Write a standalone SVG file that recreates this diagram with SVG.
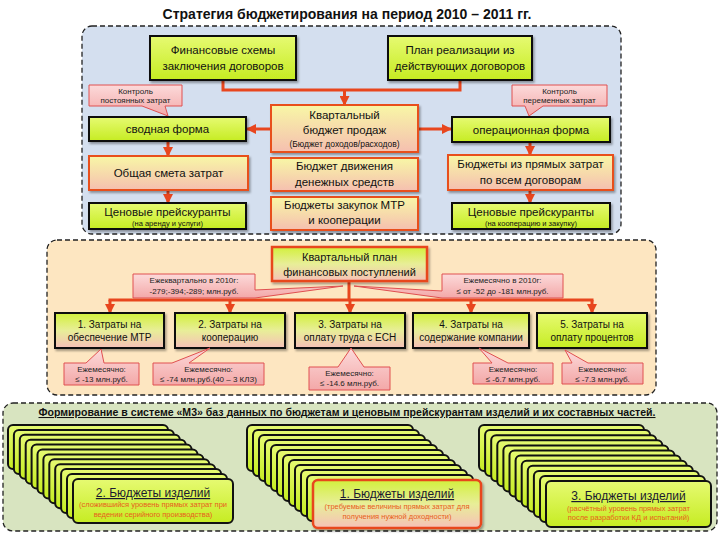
<svg xmlns="http://www.w3.org/2000/svg" width="720" height="540" viewBox="0 0 720 540">
<defs>
<linearGradient id="gGreen" x1="0" y1="0" x2="0" y2="1"><stop offset="0" stop-color="#e6fa72"/><stop offset="1" stop-color="#c6ec22"/></linearGradient>
<linearGradient id="gPeach" x1="0" y1="0" x2="0" y2="1"><stop offset="0" stop-color="#f8f7a6"/><stop offset="1" stop-color="#f5bfb0"/></linearGradient>
<linearGradient id="gMix" x1="0" y1="0" x2="0" y2="1"><stop offset="0" stop-color="#d2f03c"/><stop offset="0.5" stop-color="#e8ee98"/><stop offset="1" stop-color="#f6c0b8"/></linearGradient>
<linearGradient id="gCall" x1="0" y1="0" x2="0" y2="1"><stop offset="0" stop-color="#fcdada"/><stop offset="1" stop-color="#f3a8a8"/></linearGradient>
<filter id="sh" x="-10%" y="-10%" width="130%" height="150%"><feDropShadow dx="1.5" dy="2" stdDeviation="1.2" flood-color="#000" flood-opacity="0.35"/></filter>
<marker id="ah" viewBox="0 0 10 10" refX="9" refY="5" markerWidth="10" markerHeight="10" markerUnits="userSpaceOnUse" orient="auto"><path d="M0,0 L10,5 L0,10 Z" fill="#e8461e"/></marker>
<rect id="cardL" width="160" height="44" rx="5"/>
<rect id="cardM" width="166" height="46" rx="5"/>
<rect id="cardR" width="165" height="46" rx="5"/>
</defs>
<style>
text{font-family:"Liberation Sans",Arial,sans-serif;fill:#111;text-anchor:middle}
.green{fill:url(#gGreen);stroke:#111;stroke-width:2;filter:url(#sh)}
.peach{fill:url(#gPeach);stroke:#e8501e;stroke-width:2;filter:url(#sh)}
.mix{fill:url(#gMix);stroke:#111;stroke-width:2;filter:url(#sh)}
.mixr{fill:url(#gMix);stroke:#e8461e;stroke-width:2.5;filter:url(#sh)}
.call{fill:url(#gCall);stroke:#e05050;stroke-width:1}
.panel{stroke:#222;stroke-width:1.3;stroke-dasharray:5 3}
.m{font-size:11.5px}
.s{font-size:10px}
.c{font-size:8px;fill:#222}
.x{font-size:7.5px}
.card{fill:url(#gGreen);stroke:#111;stroke-width:2}
.ct{font-size:12px;text-decoration:underline;fill:#1a1a30}
.co{font-size:7.5px;fill:#e8601c}
.ln{fill:none;stroke:#e8461e;stroke-width:3}
</style>

<text x="347" y="19" style="font-size:14px;font-weight:bold">Стратегия бюджетирования на период 2010 – 2011 гг.</text>

<rect class="panel" x="82" y="26" width="539" height="208" rx="10" fill="#d4dfef"/>
<rect class="panel" x="47" y="240" width="609" height="155" rx="10" fill="#fde6c1"/>
<rect class="panel" x="3" y="403" width="714" height="128" rx="10" fill="#d8e4c0"/>

<g id="connectors">
<path class="ln" d="M223,80 V90 H460 V80"/>
<path class="ln" d="M344.5,90 V105" marker-end="url(#ah)"/>
<path class="ln" d="M271,129 H247" marker-end="url(#ah)"/>
<path class="ln" d="M418,129 H451" marker-end="url(#ah)"/>
<path class="ln" d="M168,141 V156" marker-end="url(#ah)"/>
<path class="ln" d="M168,190 V203" marker-end="url(#ah)"/>
<path class="ln" d="M530,142 V155" marker-end="url(#ah)"/>
<path class="ln" d="M530,190 V203" marker-end="url(#ah)"/>
<path class="ln" d="M349,281 V300 M108.5,300 H593.5"/>
<path class="ln" d="M110,300 V313" marker-end="url(#ah)"/>
<path class="ln" d="M230,300 V313" marker-end="url(#ah)"/>
<path class="ln" d="M350,300 V313" marker-end="url(#ah)"/>
<path class="ln" d="M471,300 V313" marker-end="url(#ah)"/>
<path class="ln" d="M592,300 V313" marker-end="url(#ah)"/>
</g>

<g id="n_fin"><rect class="green" x="150" y="36" width="146" height="44"/>
<text class="m" x="223" y="54">Финансовые схемы</text><text class="m" x="223" y="70">заключения договоров</text></g>
<g id="n_plan"><rect class="green" x="388" y="36" width="144" height="44"/>
<text class="m" x="460" y="54">План реализации из</text><text class="m" x="460" y="70">действующих договоров</text></g>

<g id="n_ctrl1"><path class="call" d="M89,85 H182 V106 H165 L168,116 L142,106 H89 Z"/>
<text class="c" x="135.5" y="94">Контроль</text><text class="c" x="135.5" y="103">постоянных затрат</text></g>
<g id="n_ctrl2"><path class="call" d="M512,85 H607 V106 H543 L529,116 L525,106 H512 Z"/>
<text class="c" x="559.5" y="94">Контроль</text><text class="c" x="559.5" y="103">переменных затрат</text></g>

<g id="n_svod"><rect class="green" x="89" y="117" width="157" height="24"/><text class="m" x="167.5" y="133">сводная форма</text></g>
<g id="n_quart"><rect class="peach" x="271" y="105" width="147" height="47"/>
<text class="m" x="344.5" y="119">Квартальный</text><text class="m" x="344.5" y="134">бюджет продаж</text>
<text x="344.5" y="147" style="font-size:8.5px">(Бюджет доходов/расходов)</text></g>
<g id="n_oper"><rect class="green" x="452" y="117" width="158" height="25"/><text class="m" x="531" y="133.5">операционная форма</text></g>

<g id="n_smeta"><rect class="peach" x="89" y="156" width="159" height="34"/><text class="m" x="168.5" y="177">Общая смета затрат</text></g>
<g id="n_dds"><rect class="peach" x="271" y="158" width="147" height="33"/>
<text class="m" x="344.5" y="170">Бюджет движения</text><text class="m" x="344.5" y="186">денежных средств</text></g>
<g id="n_direct"><rect class="peach" x="448" y="155" width="165" height="35"/>
<text class="m" x="530.5" y="168">Бюджеты из прямых затрат</text><text class="m" x="530.5" y="184">по всем договорам</text></g>

<g id="n_price1"><rect class="green" x="89" y="203" width="157" height="26"/>
<text class="m" x="167.5" y="215.5">Ценовые прейскуранты</text><text class="x" x="167.5" y="226">(на аренду и услуги)</text></g>
<g id="n_mtr"><rect class="peach" x="271" y="197" width="147" height="33"/>
<text class="m" x="344.5" y="209">Бюджеты закупок МТР</text><text class="m" x="344.5" y="224">и кооперации</text></g>
<g id="n_price2"><rect class="green" x="452" y="203" width="158" height="26"/>
<text class="m" x="531" y="215.5">Ценовые прейскуранты</text><text class="x" x="531" y="226">(на кооперацию и закупку)</text></g>

<g id="n_fplan"><rect class="mixr" x="272" y="247" width="155" height="34"/>
<text x="349.5" y="261" style="font-size:11px">Квартальный план</text><text x="349.5" y="276" style="font-size:11px">финансовых поступлений</text></g>

<g id="n_q2010"><path class="call" d="M133,274 H255 V290 L343,286 L255,298 H133 Z"/>
<text class="c" x="194" y="283">Ежеквартально в 2010г:</text><text class="c" x="194" y="294">-279;-394;-289;  млн.руб.</text></g>
<g id="n_m2010"><path class="call" d="M442,274 H563 V298 H442 L354,286 L442,291 Z"/>
<text class="c" x="502.5" y="283">Ежемесячно в 2010г:</text><text class="c" x="502.5" y="294">≤ от -52 до -181 млн.руб.</text></g>

<g id="n_r1"><rect class="mix" x="55" y="313" width="109" height="35"/>
<text class="s" x="109.5" y="328">1. Затраты на</text><text class="s" x="109.5" y="341">обеспечение МТР</text></g>
<g id="n_r2"><rect class="mix" x="175" y="313" width="110" height="35"/>
<text class="s" x="230" y="328">2. Затраты на</text><text class="s" x="230" y="341">кооперацию</text></g>
<g id="n_r3"><rect class="mix" x="295" y="313" width="110" height="35"/>
<text class="s" x="350" y="328">3. Затраты на</text><text class="s" x="350" y="341">оплату труда с ЕСН</text></g>
<g id="n_r4"><rect class="mix" x="413" y="313" width="116" height="35"/>
<text class="s" x="471" y="328">4. Затраты на</text><text class="s" x="471" y="341">содержание компании</text></g>
<g id="n_r5"><rect class="green" x="537" y="313" width="110" height="35"/>
<text class="s" x="592" y="328">5. Затраты на</text><text class="s" x="592" y="341">оплату процентов</text></g>

<g id="n_c1"><path class="call" d="M64,363 H86 L101,349 L104,363 H139 V385 H64 Z"/>
<text class="c" x="101.5" y="372">Ежемесячно:</text><text class="c" x="101.5" y="382">≤ -13 млн.руб.</text></g>
<g id="n_c2"><path class="call" d="M153,363 H172 L210,348 L189,363 H264 V385 H153 Z"/>
<text class="c" x="208.5" y="372">Ежемесячно:</text><text class="c" x="208.5" y="382">≤ -74 млн.руб.(40 – 3 КЛЗ)</text></g>
<g id="n_c3"><path class="call" d="M309,367 H338 L351,348 L364,367 H390 V390 H309 Z"/>
<text class="c" x="349.5" y="376">Ежемесячно:</text><text class="c" x="349.5" y="386">≤ -14.6 млн.руб.</text></g>
<g id="n_c4"><path class="call" d="M473,363 H492 L479,348 L508,363 H553 V384 H473 Z"/>
<text class="c" x="513" y="372">Ежемесячно:</text><text class="c" x="513" y="382">≤ -6.7 млн.руб.</text></g>
<g id="n_c5"><path class="call" d="M562,363 H572 L565,350 L588,363 H643 V384 H562 Z"/>
<text class="c" x="602.5" y="372">Ежемесячно:</text><text class="c" x="602.5" y="382">≤ -7.3 млн.руб.</text></g>

<g id="n_heading"><text x="347" y="416" textLength="617" lengthAdjust="spacingAndGlyphs" style="font-size:10.5px;font-weight:bold;text-decoration:underline">Формирование в системе «М3» баз данных по бюджетам и ценовым прейскурантам изделий и их составных частей.</text></g>

<g id="n_stack2">
<use href="#cardL" class="card" x="8" y="425"/><use href="#cardL" class="card" x="13.9" y="429.9"/><use href="#cardL" class="card" x="19.8" y="434.8"/><use href="#cardL" class="card" x="25.7" y="439.7"/><use href="#cardL" class="card" x="31.6" y="444.6"/><use href="#cardL" class="card" x="37.5" y="449.5"/><use href="#cardL" class="card" x="43.4" y="454.4"/><use href="#cardL" class="card" x="49.3" y="459.3"/><use href="#cardL" class="card" x="55.2" y="464.2"/><use href="#cardL" class="card" x="61.1" y="469.1"/><use href="#cardL" class="card" x="67" y="474"/><use href="#cardL" class="card" x="73" y="479"/>
<text class="ct" x="153" y="497">2. Бюджеты изделий</text>
<text class="co" x="153" y="507">(сложившийся уровень прямых затрат при</text>
<text class="co" x="153" y="517">ведении серийного производства)</text>
</g>

<g id="n_stack1">
<use href="#cardM" class="card" x="247" y="425"/><use href="#cardM" class="card" x="253" y="430"/><use href="#cardM" class="card" x="259" y="435"/><use href="#cardM" class="card" x="265" y="440"/><use href="#cardM" class="card" x="271" y="445"/><use href="#cardM" class="card" x="277" y="450"/><use href="#cardM" class="card" x="283" y="455"/><use href="#cardM" class="card" x="289" y="460"/><use href="#cardM" class="card" x="295" y="465"/><use href="#cardM" class="card" x="301" y="470"/><use href="#cardM" class="card" x="307" y="475"/>
<rect class="mixr" x="313" y="480" width="168" height="48" rx="5"/>
<text class="ct" x="397" y="498">1. Бюджеты изделий</text>
<text class="co" x="397" y="509">(требуемые величины прямых затрат для</text>
<text class="co" x="397" y="519">получения нужной доходности)</text>
</g>

<g id="n_stack3">
<use href="#cardR" class="card" x="479" y="425"/><use href="#cardR" class="card" x="485.1" y="430.1"/><use href="#cardR" class="card" x="491.2" y="435.2"/><use href="#cardR" class="card" x="497.3" y="440.3"/><use href="#cardR" class="card" x="503.4" y="445.4"/><use href="#cardR" class="card" x="509.5" y="450.5"/><use href="#cardR" class="card" x="515.6" y="455.6"/><use href="#cardR" class="card" x="521.7" y="460.7"/><use href="#cardR" class="card" x="527.8" y="465.8"/><use href="#cardR" class="card" x="533.9" y="470.9"/><use href="#cardR" class="card" x="540" y="476"/><use href="#cardR" class="card" x="546" y="481"/>
<text class="ct" x="628.5" y="500">3. Бюджеты изделий</text>
<text class="co" x="628.5" y="511">(расчётный уровень прямых затрат</text>
<text class="co" x="628.5" y="520">после разработки КД и испытаний)</text>
</g>
</svg>
